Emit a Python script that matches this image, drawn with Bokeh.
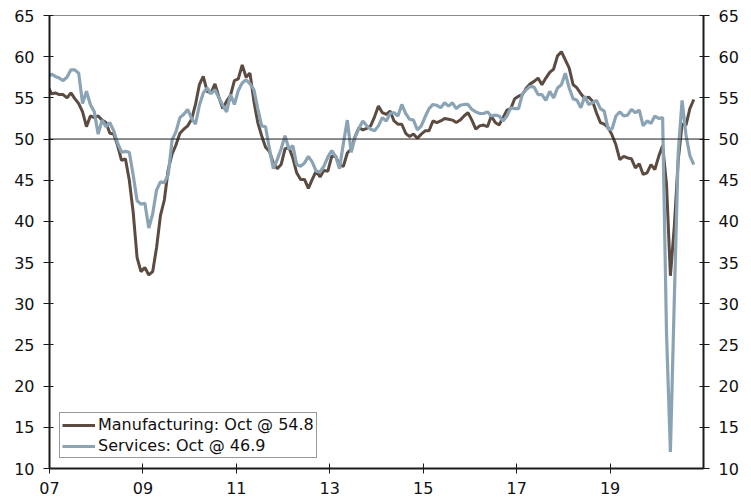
import numpy as np
import pandas as pd
from bokeh.plotting import figure
from bokeh.models import (Range1d, LinearAxis, FixedTicker, Span, Legend,
                          LegendItem, ColumnDataSource)
from bokeh.embed import file_html
from bokeh.resources import INLINE

# ---------------- data ----------------
start_month = "2006-12"
end_month = "2020-10"

manufacturing = [
    56.5,
    55.5, 55.6, 55.4, 55.4, 55.0, 55.6, 54.9, 54.3, 53.3, 51.5, 52.8, 52.6,  # 2007
    52.8, 52.3, 52.0, 50.7, 50.6, 49.2, 47.4, 47.6, 45.0, 41.1, 35.6, 33.9,  # 2008
    34.4, 33.5, 33.9, 36.8, 40.7, 42.6, 46.3, 48.2, 49.3, 50.7, 51.2, 51.6,  # 2009
    52.4, 54.2, 56.6, 57.6, 55.8, 55.6, 56.7, 55.1, 53.7, 54.6, 55.3, 57.1,  # 2010
    57.3, 59.0, 57.5, 58.0, 54.6, 52.0, 50.4, 49.0, 48.5, 47.1, 46.4, 46.9,  # 2011
    48.8, 49.0, 47.7, 45.9, 45.1, 45.1, 44.0, 45.1, 46.1, 45.4, 46.2, 46.1,  # 2012
    47.9, 47.9, 46.8, 46.7, 48.3, 48.8, 50.3, 51.4, 51.1, 51.3, 51.6, 52.7,  # 2013
    54.0, 53.2, 53.0, 53.4, 52.2, 51.8, 51.8, 50.7, 50.3, 50.6, 50.1, 50.6,  # 2014
    51.0, 51.0, 52.2, 52.0, 52.2, 52.5, 52.4, 52.3, 52.0, 52.3, 52.8, 53.2,  # 2015
    52.3, 51.2, 51.6, 51.7, 51.5, 52.8, 52.0, 51.7, 52.6, 53.5, 53.7, 54.9,  # 2016
    55.2, 55.4, 56.2, 56.7, 57.0, 57.4, 56.6, 57.4, 58.1, 58.5, 60.1, 60.6,  # 2017
    59.6, 58.6, 56.6, 56.2, 55.5, 54.9, 55.1, 54.6, 53.2, 52.0, 51.8, 51.4,  # 2018
    50.5, 49.3, 47.5, 47.9, 47.7, 47.6, 46.5, 47.0, 45.7, 45.9, 46.9, 46.3,  # 2019
    47.9, 49.2, 44.5, 33.4, 39.4, 47.4, 51.8, 51.7, 53.7, 54.8,              # 2020
]

services = [
    57.4,
    57.9, 57.6, 57.4, 57.1, 57.5, 58.4, 58.4, 58.0, 54.3, 55.8, 54.2, 53.3,  # 2007
    50.6, 52.3, 51.5, 52.0, 51.0, 49.5, 48.4, 48.5, 48.4, 45.6, 42.5, 42.1,  # 2008
    42.2, 39.2, 40.9, 43.8, 44.8, 44.7, 45.7, 49.9, 50.9, 52.6, 53.0, 53.6,  # 2009
    52.5, 51.8, 54.1, 55.6, 56.2, 55.5, 56.0, 55.0, 54.1, 53.3, 55.4, 54.2,  # 2010
    55.9, 56.8, 57.2, 56.7, 56.0, 53.7, 51.6, 51.5, 48.8, 46.4, 47.5, 48.8,  # 2011
    50.4, 48.8, 49.2, 46.9, 46.7, 47.1, 47.9, 47.2, 46.1, 46.0, 46.7, 47.8,  # 2012
    48.6, 47.9, 46.4, 49.5, 52.3, 48.4, 50.2, 51.3, 52.2, 51.6, 51.2, 51.0,  # 2013
    51.6, 52.6, 52.2, 53.1, 53.2, 52.8, 54.2, 53.1, 52.4, 52.3, 51.1, 51.6,  # 2014
    52.7, 53.7, 54.2, 54.1, 53.8, 54.4, 54.0, 54.4, 53.7, 54.1, 54.2, 54.2,  # 2015
    53.6, 53.3, 53.1, 53.1, 53.3, 52.8, 52.9, 52.8, 52.2, 52.8, 53.8, 53.7,  # 2016
    53.7, 55.5, 56.0, 56.4, 56.3, 55.4, 55.4, 54.7, 55.8, 55.0, 56.2, 56.6,  # 2017
    58.0, 56.2, 54.9, 54.7, 53.8, 55.2, 54.2, 54.4, 54.7, 53.7, 53.4, 51.2,  # 2018
    51.2, 52.8, 53.3, 52.8, 52.9, 53.6, 53.2, 53.5, 51.6, 52.2, 51.9, 52.8,  # 2019
    52.5, 52.6, 26.4, 12.0, 30.5, 48.3, 54.7, 50.5, 48.0, 46.9,              # 2020
]

legend_labels = ["Manufacturing: Oct @ 54.8", "Services: Oct @ 46.9"]
x_tick_years = [2007, 2009, 2011, 2013, 2015, 2017, 2019]
x_tick_labels = ["07", "09", "11", "13", "15", "17", "19"]
y_ticks = [10, 15, 20, 25, 30, 35, 40, 45, 50, 55, 60, 65]
reference_level = 50

# ---------------- build ----------------
months = pd.period_range(start_month, end_month, freq="M")
x = np.array([m.year + (m.month - 0.5) / 12.0 for m in months])

src = ColumnDataSource(dict(x=x, mfg=manufacturing, srv=services))

FONT = "DejaVu Sans"
FSIZE = "16px"
MFG_COLOR = "#5b4b40"
SRV_COLOR = "#8ba4b5"

p = figure(width=751, height=498,
           x_range=Range1d(2007, 2021), y_range=Range1d(10, 65),
           output_backend="svg", toolbar_location=None,
           min_border_left=49, min_border_right=48,
           min_border_top=15, min_border_bottom=30)

p.xgrid.visible = False
p.ygrid.visible = False
p.outline_line_color = "#8c8c8c"
p.outline_line_width = 1
p.background_fill_color = "white"
p.border_fill_color = "white"

p.add_layout(Span(location=reference_level, dimension="width",
                  line_color="#1a1a1a", line_width=1))

r_mfg = p.line("x", "mfg", source=src, line_color=MFG_COLOR, line_width=3)
r_srv = p.line("x", "srv", source=src, line_color=SRV_COLOR, line_width=3.2)

right_axis = LinearAxis()
p.add_layout(right_axis, "right")

yticker = FixedTicker(ticks=y_ticks)
xticker = FixedTicker(ticks=x_tick_years)

xax = p.xaxis[0]
xax.ticker = xticker
xax.major_label_overrides = {yr: lab for yr, lab in zip(x_tick_years, x_tick_labels)}
xax.major_tick_in = 5
xax.major_tick_out = 5
xax.major_label_standoff = 8

left_axis = p.yaxis[0]
for ax in (left_axis, right_axis):
    ax.ticker = yticker
    ax.major_tick_in = 4
    ax.major_tick_out = 6
    ax.major_label_standoff = 9

for ax in (xax, left_axis, right_axis):
    ax.minor_tick_line_color = None
    ax.axis_line_color = "#1a1a1a"
    ax.axis_line_width = 2
    ax.major_tick_line_color = "#1a1a1a"
    ax.major_tick_line_width = 1
    ax.major_label_text_font = FONT
    ax.major_label_text_font_size = FSIZE
    ax.major_label_text_color = "#111111"

legend = Legend(items=[LegendItem(label=legend_labels[0], renderers=[r_mfg]),
                       LegendItem(label=legend_labels[1], renderers=[r_srv])],
                location="bottom_left", margin=10, padding=2, spacing=2,
                label_height=18, glyph_height=18, glyph_width=33,
                label_standoff=3,
                label_text_font=FONT, label_text_font_size=FSIZE,
                label_text_color="#111111",
                border_line_color="#333333", border_line_width=1,
                background_fill_color="white", background_fill_alpha=1)
p.add_layout(legend)

open("out.html", "w").write(file_html(p, INLINE))
